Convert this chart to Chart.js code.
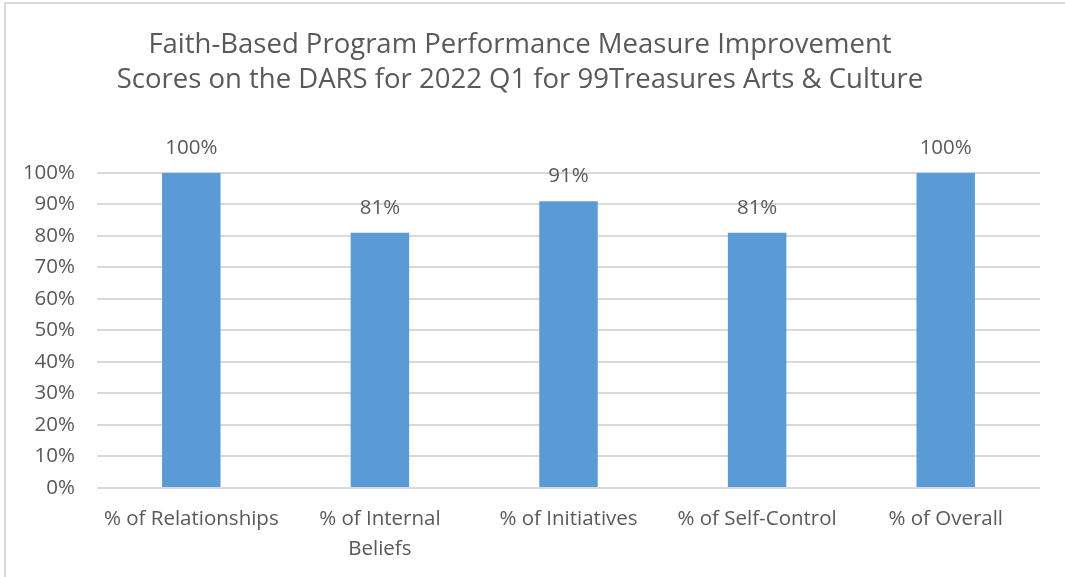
<!DOCTYPE html>
<html>
<head>
<meta charset="utf-8">
<script src="https://cdn.jsdelivr.net/npm/chart.js@4/dist/chart.umd.min.js"></script>
<style>
  html, body { margin: 0; padding: 0; background: #fff; }
  #wrap { position: absolute; left: 0; top: 0; width: 1065px; height: 577px; }
  #frame { position: absolute; left: 4px; top: 2px; width: 1061px; height: 575px; border-top: 2px solid #d9d9d9; border-left: 2px solid #d9d9d9; box-sizing: border-box; pointer-events: none; }
  canvas { position: absolute; left: 0; top: 0; }
</style>
</head>
<body>
<div id="wrap">
  <canvas id="c" width="1065" height="577"></canvas>
  <div id="frame"></div>
</div>
<script>
const categories = [
  '% of Relationships',
  ['% of Internal', 'Beliefs'],
  '% of Initiatives',
  '% of Self-Control',
  '% of Overall'
];
const scores = [100, 81, 91, 81, 100];
const titleLines = [
  'Faith-Based Program Performance Measure Improvement',
  'Scores on the DARS for 2022 Q1 for 99Treasures Arts & Culture'
];
const FONT = '"Open Sans", sans-serif';
const TEXT = '#595959';
const TICK_SIZE = 20.5;

const dataLabels = {
  id: 'dataLabels',
  afterDatasetsDraw(chart) {
    const ctx = chart.ctx;
    const meta = chart.getDatasetMeta(0);
    ctx.save();
    ctx.font = TICK_SIZE + 'px ' + FONT;
    ctx.fillStyle = TEXT;
    ctx.textAlign = 'center';
    ctx.textBaseline = 'middle';
    meta.data.forEach((bar, i) => {
      ctx.fillText(scores[i] + '%', bar.x, bar.y - 25);
    });
    ctx.restore();
  }
};

new Chart(document.getElementById('c'), {
  type: 'bar',
  data: {
    labels: categories,
    datasets: [{
      data: scores,
      backgroundColor: '#5B9BD5',
      borderWidth: 0,
      barPercentage: 0.31,
      categoryPercentage: 1
    }]
  },
  options: {
    responsive: false,
    animation: false,
    devicePixelRatio: 1,
    layout: { padding: { left: 0, right: 25, top: 0, bottom: 0 } },
    plugins: {
      legend: { display: false },
      tooltip: { enabled: false },
      title: {
        display: true,
        text: titleLines,
        color: TEXT,
        font: { family: FONT, size: 27.5, weight: 'normal', lineHeight: 1.27 },
        padding: { top: 28, bottom: 75 }
      }
    },
    scales: {
      x: {
        grid: { display: false, drawTicks: false },
        border: { display: false },
        ticks: {
          color: TEXT,
          font: { family: FONT, size: TICK_SIZE, lineHeight: 1.42 },
          padding: 17,
          maxRotation: 0,
          autoSkip: false
        },
        afterFit(scale) { scale.height = 89; }
      },
      y: {
        min: 0,
        max: 100,
        grid: { color: '#d9d9d9', lineWidth: 2, drawTicks: false },
        border: { display: false },
        ticks: {
          stepSize: 10,
          color: TEXT,
          font: { family: FONT, size: TICK_SIZE },
          padding: 22,
          callback: v => v + '%'
        },
        afterFit(scale) { scale.width = 97; }
      }
    }
  },
  plugins: [dataLabels]
});
</script>
</body>
</html>
